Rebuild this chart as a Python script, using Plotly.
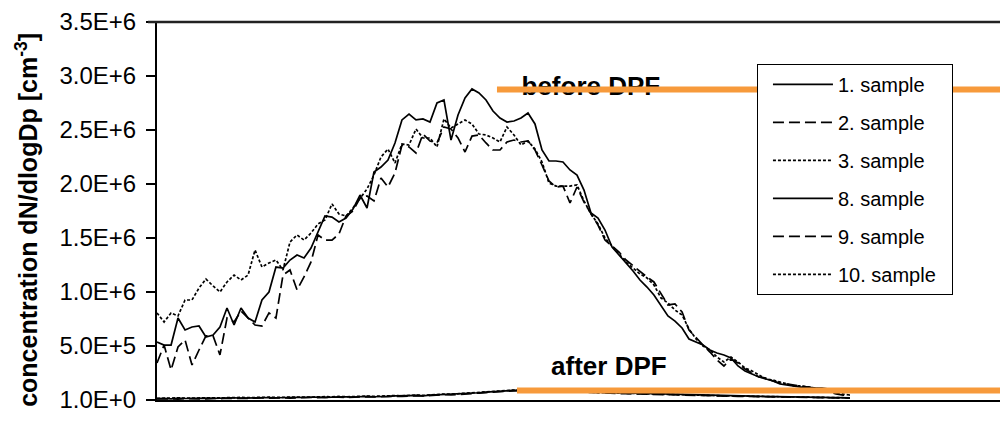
import plotly.graph_objects as go

# particle diameter channels [nm] (64 channels / decade)
diameter_nm = [10.00, 10.37, 10.75, 11.14, 11.55, 11.97, 12.41, 12.86, 13.34, 13.82,
               14.33, 14.86, 15.40, 15.97, 16.55, 17.15, 17.78, 18.43, 19.11, 19.81,
               20.54, 21.29, 22.07, 22.88, 23.71, 24.58, 25.48, 26.42, 27.38, 28.39,
               29.43, 30.50, 31.62, 32.78, 33.98, 35.22, 36.52, 37.85, 39.24, 40.68,
               42.17, 43.71, 45.32, 46.98, 48.70, 50.48, 52.33, 54.25, 56.23, 58.29,
               60.43, 62.64, 64.94, 67.32, 69.78, 72.34, 74.99, 77.74, 80.58, 83.54,
               86.60, 89.77, 93.06, 96.47, 100.0, 103.7, 107.5, 111.4, 115.5, 119.7,
               124.1, 128.6, 133.4, 138.2, 143.3, 148.6, 154.0, 159.7, 165.5, 171.5,
               177.8, 184.3, 191.1, 198.1, 205.4, 212.9, 220.7, 228.8, 237.1, 245.8,
               254.8, 264.2, 273.8, 283.9, 294.3, 305.0, 316.2, 327.8, 339.8, 352.2]

# concentrations in thousands of cm^-3
sample1_k = [537, 509, 509, 759, 648, 676, 685, 583, 602, 676,
             852, 694, 852, 759, 722, 926, 1000, 1231, 1222, 1296,
             1343, 1315, 1407, 1556, 1704, 1694, 1648, 1685, 1768, 1898,
             1778, 2111, 2157, 2222, 2380, 2593, 2648, 2593, 2602, 2574,
             2750, 2778, 2407, 2639, 2796, 2880, 2843, 2778, 2676, 2611,
             2574, 2583, 2611, 2657, 2556, 2315, 2213, 2213, 2204, 2130,
             2083, 1944, 1731, 1685, 1574, 1417, 1343, 1269, 1194, 1111,
             1046, 972, 870, 778, 731, 667, 565, 537, 509, 463,
             435, 417, 389, 315, 269, 241, 213, 194, 176, 148,
             139, 130, 120, 120, 111, 111, 102, 102, 93, 93]
sample2_k = [343, 509, 278, 491, 556, 324, 463, 593, 593, 417,
             759, 722, 824, 759, 694, 685, 806, 759, 1157, 1204,
             1019, 1139, 1278, 1528, 1481, 1481, 1537, 1704, 1750, 1870,
             1889, 1843, 2056, 1972, 2102, 2361, 2343, 2287, 2463, 2398,
             2380, 2528, 2509, 2426, 2296, 2444, 2454, 2380, 2315, 2315,
             2389, 2407, 2389, 2398, 2315, 2176, 2028, 1972, 1981, 1824,
             1972, 1833, 1722, 1620, 1481, 1426, 1370, 1296, 1241, 1185,
             1139, 1093, 991, 880, 889, 815, 648, 574, 509, 444,
             370, 315, 380, 343, 287, 250, 213, 204, 176, 157,
             148, 139, 130, 120, 102, 83, 74, 56, 46, 46]
sample3_k = [806, 722, 806, 778, 926, 926, 1037, 1120, 1056, 1000,
             1093, 1157, 1111, 1157, 1389, 1231, 1269, 1296, 1204, 1463,
             1528, 1481, 1546, 1630, 1667, 1815, 1722, 1704, 1778, 1861,
             1954, 2083, 2250, 2324, 2194, 2370, 2361, 2509, 2426, 2426,
             2343, 2602, 2519, 2556, 2593, 2556, 2463, 2454, 2426, 2389,
             2528, 2454, 2361, 2398, 2324, 2204, 2009, 1981, 1981, 1981,
             1991, 1843, 1722, 1630, 1500, 1426, 1352, 1278, 1222, 1167,
             1130, 1065, 944, 898, 833, 787, 657, 565, 500, 463,
             398, 352, 398, 352, 296, 269, 231, 194, 185, 167,
             148, 130, 130, 120, 111, 93, 83, 65, 56, 46]
sample8_k = [12, 15, 10, 18, 14, 16, 20, 17, 15, 19,
             18, 21, 17, 20, 22, 19, 23, 21, 24, 22,
             25, 23, 26, 28, 25, 29, 27, 30, 28, 31,
             33, 30, 35, 34, 38, 36, 40, 42, 39, 45,
             48, 52, 50, 56, 60, 63, 67, 72, 78, 82,
             86, 90, 92, 88, 91, 93, 89, 85, 82, 78,
             80, 77, 74, 72, 70, 68, 66, 64, 62, 60,
             58, 56, 54, 52, 50, 48, 46, 45, 44, 42,
             41, 40, 38, 37, 36, 35, 34, 33, 32, 31,
             30, 29, 28, 27, 26, 25, 24, 23, 22, 20]
sample9_k = [10, 8, 12, 9, 14, 11, 13, 10, 15, 12,
             16, 14, 18, 15, 17, 20, 16, 19, 21, 18,
             22, 20, 24, 21, 25, 23, 27, 24, 28, 26,
             30, 28, 32, 31, 35, 33, 37, 40, 38, 43,
             46, 49, 47, 53, 57, 61, 64, 69, 74, 79,
             83, 86, 88, 85, 87, 90, 86, 82, 79, 76,
             73, 70, 68, 66, 64, 62, 60, 58, 57, 55,
             53, 51, 50, 48, 46, 44, 43, 42, 40, 39,
             38, 37, 35, 34, 33, 32, 31, 30, 29, 28,
             27, 26, 25, 24, 23, 22, 21, 20, 19, 18]
sample10_k = [15, 18, 14, 20, 17, 19, 22, 18, 21, 20,
              23, 19, 24, 22, 25, 21, 26, 24, 27, 25,
              28, 26, 30, 27, 31, 29, 33, 30, 34, 32,
              36, 34, 38, 37, 41, 39, 44, 46, 43, 49,
              52, 55, 54, 59, 63, 66, 70, 75, 80, 84,
              88, 92, 94, 90, 93, 95, 91, 87, 84, 80,
              77, 74, 71, 69, 67, 65, 63, 61, 59, 57,
              55, 53, 52, 50, 48, 47, 45, 44, 43, 41,
              40, 39, 38, 36, 35, 34, 33, 32, 31, 30,
              29, 28, 27, 26, 25, 24, 23, 22, 21, 20]

series_names = ["1. sample", "2. sample", "3. sample", "8. sample", "9. sample", "10. sample"]
series_values = [sample1_k, sample2_k, sample3_k, sample8_k, sample9_k, sample10_k]
series_dash = ["solid", "11px,5px", "3px,2px", "solid", "11px,5px", "3px,2px"]

y_tickvals = [1, 5e5, 1e6, 1.5e6, 2e6, 2.5e6, 3e6, 3.5e6]
y_ticktext = ["1.0E+0", "5.0E+5", "1.0E+6", "1.5E+6", "2.0E+6", "2.5E+6", "3.0E+6", "3.5E+6"]

# level markers (orange lines) and labels
before_level = 2.875e6
after_level = 0.088e6
before_label_pos = (93.0, 2.88e6)
after_label_pos = (102.0, 0.296e6)

FONT = "Arial, Liberation Sans, sans-serif"
ORANGE = "#F79A3B"
PAD = "\u00a0\u00a0"

fig = go.Figure()
for name, vals, dash in zip(series_names, series_values, series_dash):
    fig.add_trace(go.Scatter(
        x=diameter_nm, y=[v * 1000 for v in vals], mode="lines", name=name + PAD,
        legendgroup=name,
        line=dict(color="black", width=1.7, dash=dash),
    ))

fig.add_trace(go.Scatter(
    x=[before_label_pos[0], after_label_pos[0]],
    y=[before_label_pos[1], after_label_pos[1]],
    mode="text", text=["<b>before DPF</b>", "<b>after DPF</b>"],
    textfont=dict(family=FONT, size=26, color="black"),
    showlegend=False, hoverinfo="skip",
))

fig.add_shape(type="line", xref="paper", yref="y", x0=0.3995, x1=1.0,
              y0=before_level, y1=before_level, line=dict(color=ORANGE, width=6),
              layer="above")
fig.add_shape(type="line", xref="paper", yref="y", x0=0.423, x1=1.0,
              y0=after_level, y1=after_level, line=dict(color=ORANGE, width=6),
              layer="above")
# top frame line
fig.add_shape(type="line", xref="paper", yref="paper", x0=-0.0106, x1=1.0,
              y0=1, y1=1, line=dict(color="#222", width=2.5), layer="above")

fig.add_annotation(
    text="<b>concentration dN/dlogDp [cm<sup>-3</sup>]</b>",
    xref="paper", yref="paper", x=-0.153, y=0.476,
    xanchor="center", yanchor="middle", textangle=-90, showarrow=False,
    font=dict(family=FONT, size=25, color="black"),
)
fig.add_annotation(
    text="0.1", xref="paper", yref="paper", x=-0.0282, y=-0.058,
    xanchor="right", yanchor="top", showarrow=False,
    font=dict(family=FONT, size=24, color="black"),
)

# page body adds an 8px offset, so the figure is 8px smaller than the window
fig.update_layout(
    width=1000, height=421,
    margin=dict(l=149, r=0, t=14, b=29),
    paper_bgcolor="white", plot_bgcolor="white",
    font=dict(family=FONT, color="black"),
    showlegend=True,
    legend=dict(
        x=0.705, y=0.889, xanchor="left", yanchor="top",
        bgcolor="white", bordercolor="black", borderwidth=1,
        font=dict(family=FONT, size=20, color="black"),
        itemwidth=60, tracegroupgap=9, indentation=10,
    ),
    xaxis=dict(
        type="log", range=[1.0, 2.8996],
        showgrid=False, zeroline=False, showticklabels=False, ticks="",
        showline=True, linecolor="black", linewidth=2,
    ),
    yaxis=dict(
        range=[1, 3.5e6], tickvals=y_tickvals, ticktext=y_ticktext,
        showgrid=False, zeroline=False,
        showline=True, linecolor="black", linewidth=2,
        ticks="outside", ticklen=9, tickwidth=1.5, tickcolor="black",
        tickfont=dict(family=FONT, size=24, color="black"),
        ticklabelstandoff=5,
    ),
)

fig.write_html("out.html")
